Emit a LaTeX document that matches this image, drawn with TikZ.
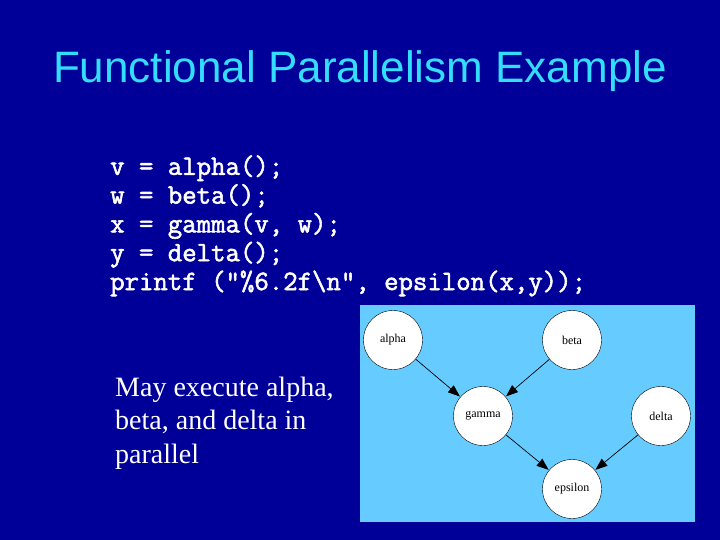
\documentclass[tikz,border=0pt]{standalone}
\usepackage{fontspec}
\setmainfont{Liberation Serif}
\setsansfont{Liberation Sans}
\newfontfamily\codefont[FakeBold=2]{Latin Modern Mono}
\usepackage{xcolor}
\usetikzlibrary{arrows.meta,positioning}
\definecolor{slideblue}{RGB}{0,0,153}
\definecolor{titlecyan}{RGB}{51,221,255}
\definecolor{panelblue}{RGB}{102,204,255}

\begin{document}
\begin{tikzpicture}[
  x=1pt, y=-1pt,
  >={Triangle[length=12pt,width=9pt]},
  task/.style={circle, draw=black, fill=white, minimum size=59pt,
      inner sep=0pt, font=\fontsize{12}{14}\selectfont},
  flow/.style={->, black, line width=0.7pt, shorten >=0.5pt}
]
% slide background
\fill[slideblue] (0,0) rectangle (720,540);
\useasboundingbox (0,0) rectangle (720,540);

\node[anchor=base, text=titlecyan, font=\sffamily\fontsize{44}{52}\selectfont]
  (title) at (360,83) {Functional Parallelism Example};

% anchor base = last line
\node[anchor=base west, align=left, inner sep=0pt, text=white,
  font=\codefont\fontsize{28}{28.8}\selectfont] (code) at (110,290)
  {v = alpha();\\
   w = beta();\\
   x = gamma(v, w);\\
   y = delta();\\
   printf ("\%6.2f\textbackslash n", epsilon(x,y));};

\node[anchor=base west, align=left, inner sep=0pt, text=white,
  font=\fontsize{28}{33.5}\selectfont] (note) at (115,463)
  {May execute alpha,\\ beta, and delta in\\ parallel};

% task graph
\fill[panelblue] (360,305) rectangle (695,522);
\node[task] (alpha)   at (393,340) {alpha};
\node[task] (beta)    at (572,340) {beta};
\node[task] (gamma)   at (483,416) {gamma};
\node[task] (delta)   at (661,416) {delta};
\node[task] (epsilon) at (572,489) {epsilon};

\draw[flow] (alpha) -- (gamma);
\draw[flow] (beta) -- (gamma);
\draw[flow] (gamma) -- (epsilon);
\draw[flow] (delta) -- (epsilon);
\end{tikzpicture}
\end{document}
